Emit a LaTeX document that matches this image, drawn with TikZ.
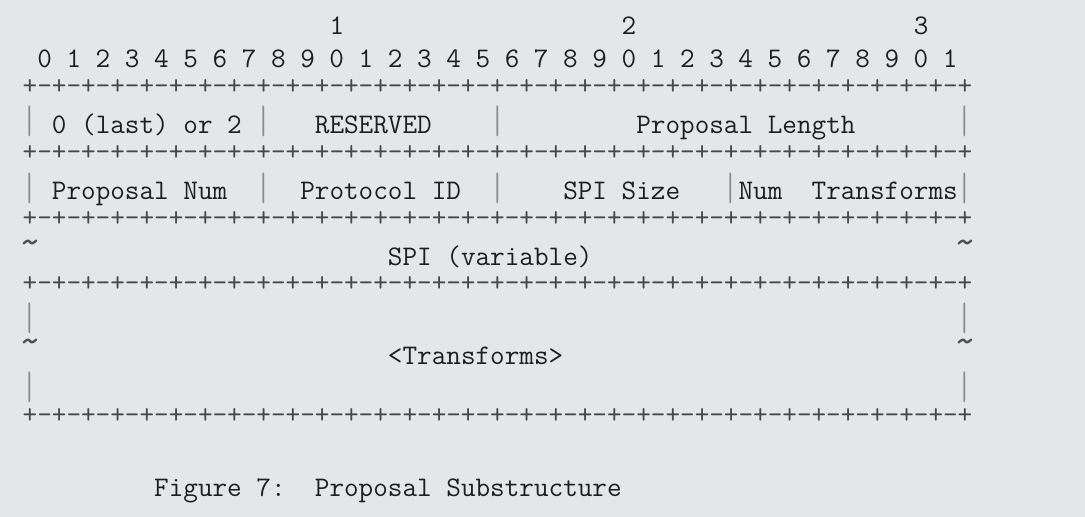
\documentclass[tikz,border=0pt]{standalone}
\usepackage{fontspec}
\definecolor{bgc}{HTML}{E4E7EA}
\definecolor{textc}{HTML}{1E1E1E}
\definecolor{barc}{HTML}{8C8C8C}
\definecolor{plusc}{HTML}{474747}
\definecolor{tildec}{HTML}{505050}
\begin{document}
\newlength\mw
\settowidth\mw{\ttfamily\fontsize{27.83}{33}\selectfont 0}
\pgfmathsetmacro\fsz{27.83*14.61/\mw}
\begin{tikzpicture}[x=1pt,y=-1pt,
  t/.style={anchor=base west,inner sep=0pt,outer sep=0pt,
    font=\ttfamily\fontsize{\fsz}{33}\selectfont,text=textc},
  bar/.style={t,anchor=center,text=barc},
  til/.style={t,anchor=center,text=tildec},
  pl/.style={t,anchor=west,text=plusc}]
\useasboundingbox (0,0) rectangle (1085,517);
\fill[bgc] (0,0) rectangle (1085,517);
\frenchspacing
\newcommand\vbar{\scalebox{1}[1.4]{|}}
\newcommand\wave{\scalebox{1.5}{\textasciitilde}}
% header rows
\node[t] (h1) at ({14.61*24-21.13},34) {1};
\node[t] (h2) at ({14.61*44-21.13},34) {2};
\node[t] (h3) at ({14.61*64-21.13},34) {3};
\node[t] (bits) at ({14.61*4-21.13},67) {0 1 2 3 4 5 6 7 8 9 0 1 2 3 4 5 6 7 8 9 0 1 2 3 4 5 6 7 8 9 0 1};
% separator lines
\foreach \yy/\nm in {87/sa,152.8/sb,218.6/sc,284.4/sd,416/se}{
  \node[pl] (\nm) at ({14.61*3-21.13},\yy) {+-+-+-+-+-+-+-+-+-+-+-+-+-+-+-+-+-+-+-+-+-+-+-+-+-+-+-+-+-+-+-+-+};
}
% row 3
\node[bar] (r3b0) at ({14.61*3-13.83},121) {\vbar};
\node[t] (nextp) at ({14.61*5-21.13},133) {0 (last) or 2};
\node[bar] (r3b1) at ({14.61*19-13.83},121) {\vbar};
\node[t] (resv) at ({14.61*23-21.13},133) {RESERVED};
\node[bar] (r3b2) at ({14.61*35-13.83},121) {\vbar};
\node[t] (plen) at ({14.61*45-21.13},133) {Proposal Length};
\node[bar] (r3b3) at ({14.61*67-13.83},121) {\vbar};
% row 5
\node[bar] (r5b0) at ({14.61*3-13.83},188) {\vbar};
\node[t] (pnum) at ({14.61*5-21.13},199) {Proposal Num};
\node[bar] (r5b1) at ({14.61*19-13.83},188) {\vbar};
\node[t] (pid) at ({14.61*22-21.13},199) {Protocol ID};
\node[bar] (r5b2) at ({14.61*35-13.83},188) {\vbar};
\node[t] (spis) at ({14.61*40-21.13},199) {SPI Size};
\node[bar] (r5b3) at ({14.61*51-13.83},188) {\vbar};
\node[t] (numw) at ({14.61*52-21.13},199) {Num};
\node[t] (trw) at ({14.61*57-21.13},199) {Transforms};
\node[bar] (r5b4) at ({14.61*67-13.83},188) {\vbar};
% row 7
\node[til] (r7t0) at ({14.61*3-13.83},248) {\wave};
\node[t] (spi) at ({14.61*28-21.13},265) {SPI (variable)};
\node[til] (r7t1) at ({14.61*67-13.83},248) {\wave};
% rows 9-11
\node[bar] (r9b0) at ({14.61*3-13.83},318) {\vbar};
\node[bar] (r9b1) at ({14.61*67-13.83},318) {\vbar};
\node[til] (r10t0) at ({14.61*3-13.83},347) {\wave};
\node[t] (trans) at ({14.61*28-21.13},364) {<Transforms>};
\node[til] (r10t1) at ({14.61*67-13.83},347) {\wave};
\node[bar] (r11b0) at ({14.61*3-13.83},387) {\vbar};
\node[bar] (r11b1) at ({14.61*67-13.83},387) {\vbar};
% caption
\node[t] (fig) at ({14.61*12-21.13},496) {Figure 7:};
\node[t] (cap) at ({14.61*23-21.13},496) {Proposal Substructure};
\end{tikzpicture}
\end{document}
